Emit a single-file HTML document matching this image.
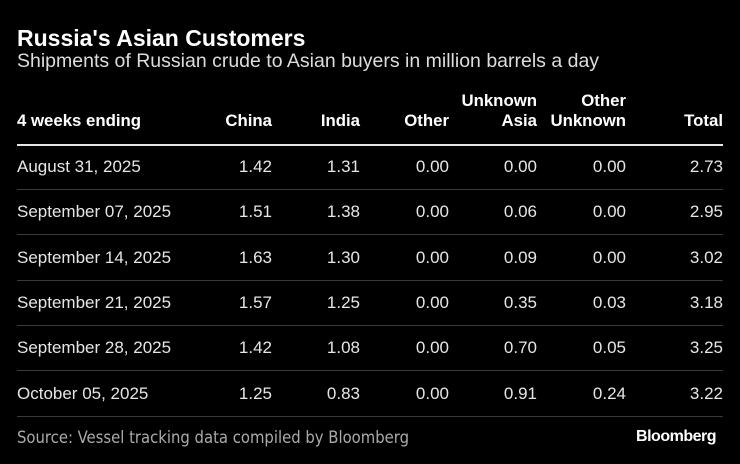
<!DOCTYPE html>
<html><head><style>
body{margin:0;width:740px;height:464px;background:#000;overflow:hidden;font-family:"Liberation Sans",sans-serif;color:#e6e6e6;position:relative}
.a{position:absolute;white-space:nowrap}
.t{left:17px;top:25px;font-size:23px;font-weight:bold;color:#fff}
.s{left:17px;top:50px;font-size:19.5px;color:#ddd}
.h{font-weight:bold;font-size:16.8px;color:#fff;text-align:right;line-height:20px}
.c{font-size:17px;text-align:right}
.l{position:absolute;left:17px;width:706px;height:1px;background:#3a3a3a}
</style></head><body>
<div class="a t">Russia's Asian Customers</div>
<div class="a s">Shipments of Russian crude to Asian buyers in million barrels a day</div>
<div class="a h" style="left:17px;top:111px;text-align:left">4 weeks ending</div>
<div class="a h" style="right:468px;top:111px">China</div>
<div class="a h" style="right:380px;top:111px">India</div>
<div class="a h" style="right:291px;top:111px">Other</div>
<div class="a h" style="right:203px;top:91px">Unknown<br>Asia</div>
<div class="a h" style="right:114px;top:91px">Other<br>Unknown</div>
<div class="a h" style="right:17px;top:111px">Total</div>
<div class="l" style="top:144px;height:2px;background:#e6e6e6"></div>
<div id="rows"></div>
<div class="a" style="left:17px;top:428px;font-size:16.5px;color:#aaa;font-family:'DejaVu Sans Condensed','Liberation Sans Narrow',sans-serif">Source: Vessel tracking data compiled by Bloomberg</div>
<div class="a" style="right:24px;top:428px;font-size:16px;font-weight:bold;color:#fff;letter-spacing:-0.5px">Bloomberg</div>
<script>
var d=[["August 31, 2025","1.42","1.31","0.00","0.00","0.00","2.73"],
["September 07, 2025","1.51","1.38","0.00","0.06","0.00","2.95"],
["September 14, 2025","1.63","1.30","0.00","0.09","0.00","3.02"],
["September 21, 2025","1.57","1.25","0.00","0.35","0.03","3.18"],
["September 28, 2025","1.42","1.08","0.00","0.70","0.05","3.25"],
["October 05, 2025","1.25","0.83","0.00","0.91","0.24","3.22"]];
var r=[468,380,291,203,114,17],h="";
d.forEach(function(row,i){var y=157+i*45.3;
h+='<div class="a c" style="left:17px;top:'+y+'px;text-align:left">'+row[0]+'</div>';
for(var j=1;j<7;j++)h+='<div class="a c" style="right:'+r[j-1]+'px;top:'+y+'px">'+row[j]+'</div>';
h+='<div class="l" style="top:'+(189+i*45.3)+'px"></div>';});
document.getElementById("rows").outerHTML=h;
</script>
</body></html>
